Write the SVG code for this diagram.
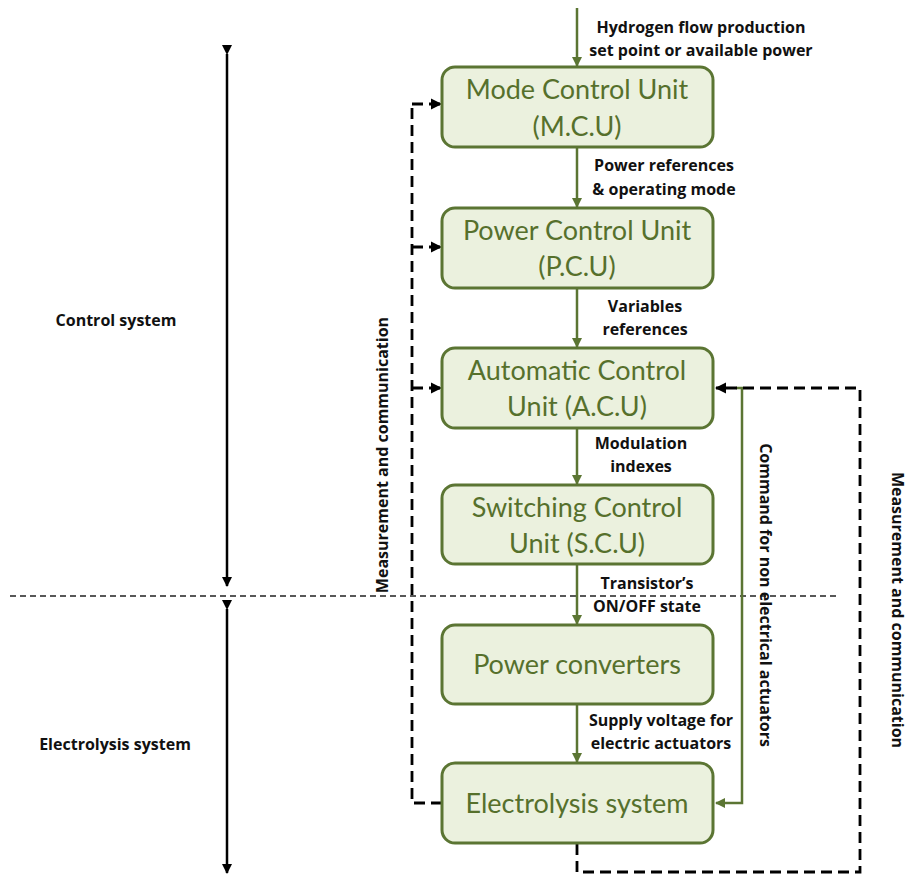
<svg xmlns="http://www.w3.org/2000/svg" width="910" height="875" viewBox="0 0 910 875">
  <style>
    .box { fill: #ebf1de; stroke: #5b7533; stroke-width: 3; }
    .bt { font-family: Lato, "Liberation Sans", sans-serif; font-size: 27px; fill: #56702c; text-anchor: middle; }
    .lbl { font-family: "Open Sans", "Liberation Sans", sans-serif; font-weight: bold; font-size: 16px; fill: #111; text-anchor: middle; }
    .flow { stroke: #5b7533; stroke-width: 2.5; fill: none; }
    .dash { stroke: #000; stroke-width: 2.8; fill: none; stroke-dasharray: 11 6; }
    .blk { stroke: #000; stroke-width: 2.5; fill: none; }
    .sep { stroke: #222; stroke-width: 1.3; fill: none; stroke-dasharray: 6 4; }
  </style>
  <defs>
    <marker id="ag" viewBox="0 0 10 10" refX="9" refY="5" markerWidth="4" markerHeight="4" orient="auto" markerUnits="strokeWidth">
      <path d="M0,0 L10,5 L0,10 z" fill="#5b7533"/>
    </marker>
    <marker id="ab" viewBox="0 0 10 10" refX="9" refY="5" markerWidth="4" markerHeight="4" orient="auto" markerUnits="strokeWidth">
      <path d="M0,0 L10,5 L0,10 z" fill="#000"/>
    </marker>
  </defs>

  <rect width="910" height="875" fill="#fff"/>

  <!-- system boundary -->
  <line class="sep" x1="10" y1="596" x2="838" y2="596"/>

  <g id="connectors">
    <!-- main signal chain -->
    <line class="flow" x1="577" y1="8" x2="577" y2="66" marker-end="url(#ag)"/>
    <line class="flow" x1="577" y1="148" x2="577" y2="207" marker-end="url(#ag)"/>
    <line class="flow" x1="577" y1="289" x2="577" y2="347" marker-end="url(#ag)"/>
    <line class="flow" x1="577" y1="429" x2="577" y2="484" marker-end="url(#ag)"/>
    <line class="flow" x1="577" y1="565" x2="577" y2="624" marker-end="url(#ag)"/>
    <line class="flow" x1="577" y1="705" x2="577" y2="762" marker-end="url(#ag)"/>

    <!-- command for non electrical actuators -->
    <polyline class="flow" points="736,388 742,388 742,803 716,803" marker-end="url(#ag)"/>

    <!-- left measurement bus -->
    <polyline class="dash" points="442,803 412,803 412,104"/>
    <line class="dash" x1="412" y1="104" x2="441" y2="104" marker-end="url(#ab)"/>
    <line class="dash" x1="412" y1="247" x2="441" y2="247" marker-end="url(#ab)"/>
    <line class="dash" x1="412" y1="388" x2="441" y2="388" marker-end="url(#ab)"/>

    <!-- right measurement loop -->
    <polyline class="dash" points="577,844 577,872 860,872 860,388 716,388" marker-end="url(#ab)"/>

    <!-- level extents -->
    <line class="blk" x1="227" y1="54" x2="227" y2="586" marker-start="url(#ab)" marker-end="url(#ab)"/>
    <line class="blk" x1="227" y1="609" x2="227" y2="873" marker-start="url(#ab)" marker-end="url(#ab)"/>
  </g>

  <g id="mcu">
    <rect class="box" x="442" y="67" width="271" height="80" rx="13"/>
    <text class="bt" x="577" y="99">Mode Control Unit</text>
    <text class="bt" x="577" y="136">(M.C.U)</text>
  </g>
  <g id="pcu">
    <rect class="box" x="442" y="208" width="271" height="80" rx="13"/>
    <text class="bt" x="577" y="240">Power Control Unit</text>
    <text class="bt" x="577" y="276">(P.C.U)</text>
  </g>
  <g id="acu">
    <rect class="box" x="442" y="348" width="271" height="80" rx="13"/>
    <text class="bt" x="577" y="380">Automatic Control</text>
    <text class="bt" x="577" y="416">Unit (A.C.U)</text>
  </g>
  <g id="scu">
    <rect class="box" x="442" y="485" width="271" height="79" rx="13"/>
    <text class="bt" x="577" y="517">Switching Control</text>
    <text class="bt" x="577" y="553">Unit (S.C.U)</text>
  </g>
  <g id="converters">
    <rect class="box" x="442" y="625" width="271" height="79" rx="13"/>
    <text class="bt" x="577" y="674">Power converters</text>
  </g>
  <g id="electrolysis">
    <rect class="box" x="442" y="763" width="271" height="80" rx="13"/>
    <text class="bt" x="577" y="813">Electrolysis system</text>
  </g>

  <g id="labels">
    <text class="lbl" x="701" y="33">Hydrogen flow production</text>
    <text class="lbl" x="701" y="56">set point or available power</text>
    <text class="lbl" x="664" y="171">Power references</text>
    <text class="lbl" x="664" y="195">&amp; operating mode</text>
    <text class="lbl" x="645" y="312">Variables</text>
    <text class="lbl" x="645" y="335">references</text>
    <text class="lbl" x="641" y="449">Modulation</text>
    <text class="lbl" x="641" y="472">indexes</text>
    <text class="lbl" x="647" y="589">Transistor’s</text>
    <text class="lbl" x="647" y="612">ON/OFF state</text>
    <text class="lbl" x="661" y="726">Supply voltage for</text>
    <text class="lbl" x="661" y="749">electric actuators</text>
    <text class="lbl" transform="translate(388,455) rotate(-90)">Measurement and communication</text>
    <text class="lbl" transform="translate(760,595) rotate(90)">Command for non electrical actuators</text>
    <text class="lbl" transform="translate(892,610) rotate(90)">Measurement and communication</text>
    <text class="lbl" x="116" y="326">Control system</text>
    <text class="lbl" x="115" y="750">Electrolysis system</text>
  </g>
</svg>
